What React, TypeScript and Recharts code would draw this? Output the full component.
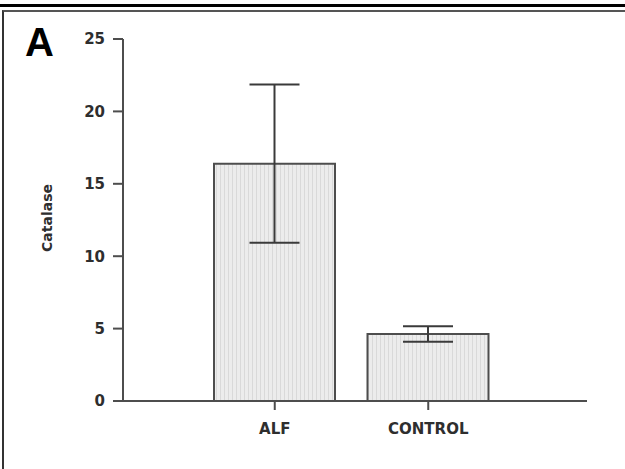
import React from "react";
import {
  BarChart,
  Bar,
  XAxis,
  YAxis,
  ErrorBar,
  Label,
} from "recharts";

// group names, means and error half-widths
const groups = ["ALF", "CONTROL"];
const catalaseMean = [16.39, 4.63];
const catalaseErr = [5.46, 0.54];
const yTicks = [0, 5, 10, 15, 20, 25];

const data = groups.map((name, i) => ({
  name,
  value: catalaseMean[i],
  err: catalaseErr[i],
}));

const axisColor = "#4d4d4d";
const textColor = "#2e2e2e";
const fontFamily = "'DejaVu Sans', sans-serif";

const App = () => {
  return (
    <div
      style={{
        position: "absolute",
        left: 0,
        top: 0,
        width: 625,
        height: 469,
        background: "#ffffff",
        overflow: "hidden",
      }}
    >
      {/* stripe fill for the bars */}
      <svg width={0} height={0} style={{ position: "absolute" }}>
        <defs>
          <pattern id="stripes" width={4} height={4} patternUnits="userSpaceOnUse">
            <rect width={4} height={4} fill="#ececec" />
            <rect width={1} height={4} fill="#d9d9d9" />
          </pattern>
        </defs>
      </svg>

      {/* frame lines */}
      <div
        style={{
          position: "absolute",
          left: 0,
          top: 4,
          width: 625,
          height: 3,
          background: "#000000",
        }}
      />
      <div
        style={{
          position: "absolute",
          left: 2,
          top: 10,
          width: 640,
          height: 480,
          borderTop: "2px solid #555555",
          borderLeft: "2px solid #333333",
        }}
      />

      <span
        style={{
          position: "absolute",
          left: 25,
          top: 19,
          fontFamily: "'Liberation Sans', Arial, sans-serif",
          fontWeight: 700,
          fontSize: 40,
          color: "#000000",
          lineHeight: "46px",
        }}
      >
        A
      </span>

      <div style={{ position: "absolute", left: 0, top: 0 }}>
        <BarChart
          width={625}
          height={469}
          data={data}
          margin={{ top: 39, right: 38, bottom: 0, left: 0 }}
        >
          <XAxis
            dataKey="name"
            height={68}
            padding={{ left: 75, right: 82 }}
            stroke={axisColor}
            strokeWidth={2}
            tickSize={9}
            tickMargin={13}
            tick={{ fill: textColor, fontSize: 15, fontWeight: 700, fontFamily }}
            tickLine={{ stroke: axisColor, strokeWidth: 2 }}
          />
          <YAxis
            width={123}
            domain={[0, 25]}
            ticks={yTicks}
            interval={0}
            stroke={axisColor}
            strokeWidth={2}
            tickSize={10}
            tickMargin={8}
            tick={{ fill: textColor, fontSize: 15, fontWeight: 700, fontFamily }}
            tickLine={{ stroke: axisColor, strokeWidth: 2 }}
          >
            <Label
              content={() => (
                <text
                  x={52}
                  y={218}
                  transform="rotate(-90 52 218)"
                  textAnchor="middle"
                  fontSize={14}
                  fontWeight={700}
                  fontFamily={fontFamily}
                  fill={textColor}
                >
                  Catalase
                </text>
              )}
            />
          </YAxis>
          <Bar
            dataKey="value"
            barSize={121}
            fill="url(#stripes)"
            stroke={axisColor}
            strokeWidth={2}
            isAnimationActive={false}
          >
            <ErrorBar
              dataKey="err"
              width={25}
              stroke="#3a3a3a"
              strokeWidth={2}
              isAnimationActive={false}
            />
          </Bar>
        </BarChart>
      </div>
    </div>
  );
};

export default App;
